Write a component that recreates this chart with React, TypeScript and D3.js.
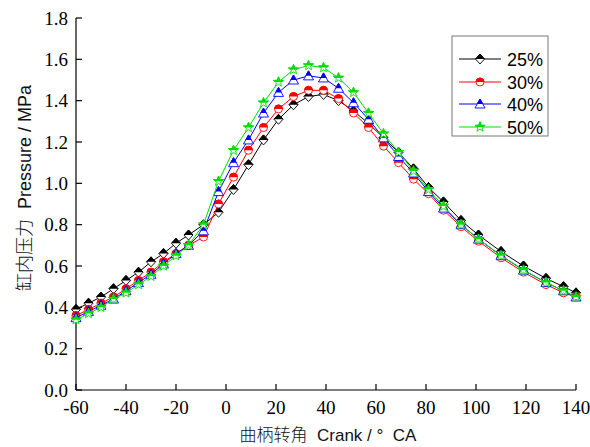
import React from "react";
import * as d3 from "d3";

const crank = [-60, -55, -50, -45, -40, -35, -30, -25, -20, -15, -9, -3, 3, 9, 15, 21, 27, 33, 39, 45, 51, 57, 63, 69, 75, 81, 87, 94, 101, 110, 119, 128, 135, 140];
const p25 = [0.39, 0.42, 0.45, 0.49, 0.53, 0.57, 0.62, 0.66, 0.71, 0.75, 0.80, 0.86, 0.97, 1.09, 1.21, 1.31, 1.38, 1.42, 1.43, 1.40, 1.35, 1.29, 1.22, 1.15, 1.07, 0.98, 0.91, 0.82, 0.75, 0.67, 0.60, 0.54, 0.50, 0.47];
const p30 = [0.36, 0.39, 0.42, 0.45, 0.49, 0.53, 0.57, 0.62, 0.66, 0.70, 0.74, 0.90, 1.03, 1.16, 1.27, 1.36, 1.42, 1.45, 1.45, 1.41, 1.34, 1.27, 1.18, 1.10, 1.02, 0.95, 0.87, 0.79, 0.72, 0.64, 0.57, 0.51, 0.47, 0.45];
const p40 = [0.35, 0.38, 0.41, 0.44, 0.48, 0.52, 0.56, 0.61, 0.66, 0.70, 0.77, 0.96, 1.10, 1.21, 1.34, 1.44, 1.50, 1.52, 1.51, 1.46, 1.39, 1.31, 1.22, 1.13, 1.05, 0.96, 0.88, 0.80, 0.73, 0.65, 0.58, 0.52, 0.48, 0.45];
const p50 = [0.34, 0.37, 0.40, 0.44, 0.47, 0.51, 0.55, 0.60, 0.65, 0.70, 0.80, 1.01, 1.16, 1.27, 1.39, 1.49, 1.55, 1.57, 1.56, 1.51, 1.44, 1.34, 1.24, 1.15, 1.06, 0.97, 0.89, 0.80, 0.73, 0.65, 0.58, 0.52, 0.48, 0.45];

const seriesNames = ["25%", "30%", "40%", "50%"];
const seriesValues = [p25, p30, p40, p50];
const seriesColors = ["#000000", "#ff0000", "#0000ff", "#00dd00"];
const seriesShapes = ["diamond", "circle", "triangle", "star"];

const xTicks = [-60, -40, -20, 0, 20, 40, 60, 80, 100, 120, 140];
const yTicks = [0, 0.2, 0.4, 0.6, 0.8, 1.0, 1.2, 1.4, 1.6, 1.8];

function starPath(ro: number, ri: number) {
  const pts: string[] = [];
  for (let i = 0; i < 10; i++) {
    const r = i % 2 === 0 ? ro : ri;
    const a = -Math.PI / 2 + (i * Math.PI) / 5;
    pts.push(`${(r * Math.cos(a)).toFixed(2)},${(r * Math.sin(a)).toFixed(2)}`);
  }
  return "M" + pts.join("L") + "Z";
}

const shapePaths: Record<string, string> = {
  diamond: "M0,-5L4.5,0L0,5L-4.5,0Z",
  circle: "M-4,0A4,4 0 1,1 4,0A4,4 0 1,1 -4,0Z",
  triangle: "M0,-5L5,4L-5,4Z",
  star: starPath(5.2, 2.2),
};

function Marker({ x, y, shape, color }: { x: number; y: number; shape: string; color: string }) {
  const d = shapePaths[shape];
  return (
    <g transform={`translate(${x},${y})`}>
      <path d={d} fill="#fff" stroke={color} strokeWidth={0.9} />
      <path d={d} fill={color} stroke={color} strokeWidth={0.9} clipPath="url(#topHalf)" />
    </g>
  );
}

const SERIF = "'Liberation Serif', 'Times New Roman', serif";
const SANS = "'Liberation Sans', Arial, sans-serif";
const CJK = "'Noto Sans CJK SC', sans-serif";

export default function App() {
  const W = 590, H = 447;
  const x = d3.scaleLinear().domain([-60, 140]).range([76, 576]);
  const y = d3.scaleLinear().domain([0, 1.8]).range([390, 18]);
  const line = d3.line<number>().x((_, i) => x(crank[i])).y((v) => y(v));

  const legendX = 452, legendY = 36;
  const legendRows = [59, 82, 104, 127];

  return (
    <svg width={W} height={H} style={{ position: "absolute", left: 0, top: 0, background: "#fff" }}>
      <defs>
        <clipPath id="topHalf" clipPathUnits="userSpaceOnUse">
          <rect x={-10} y={-10} width={20} height={10} />
        </clipPath>
      </defs>
      <rect x={0} y={0} width={W} height={H} fill="#fff" />

      {/* axes */}
      <line x1={76} y1={390} x2={576} y2={390} stroke="#000" strokeWidth={1.2} />
      <line x1={76} y1={390} x2={76} y2={18} stroke="#000" strokeWidth={1.2} />
      {xTicks.map((t) => (
        <g key={"xt" + t}>
          <line x1={x(t)} x2={x(t)} y1={390} y2={384} stroke="#000" strokeWidth={1.2} />
          <text x={x(t)} y={414} textAnchor="middle" fontFamily={SERIF} fontSize={19} fill="#000">
            {t}
          </text>
        </g>
      ))}
      {yTicks.map((t) => (
        <g key={"yt" + t}>
          <line x1={76} x2={82} y1={y(t)} y2={y(t)} stroke="#000" strokeWidth={1.2} />
          <text x={68} y={y(t) + 6.5} textAnchor="end" fontFamily={SERIF} fontSize={19} fill="#000">
            {t.toFixed(1)}
          </text>
        </g>
      ))}

      {/* axis titles */}
      <text x={328} y={441} textAnchor="middle" fontSize={17} fill="#111">
        <tspan fontFamily={CJK} fontWeight={300}>曲柄转角</tspan>
        <tspan fontFamily={SANS}>{"\u00a0\u00a0Crank / °\u00a0\u00a0CA"}</tspan>
      </text>
      <text transform={`translate(31,188) rotate(-90)`} textAnchor="middle" fontSize={18} fill="#111">
        <tspan fontFamily={CJK} fontWeight={300}>缸内压力</tspan>
        <tspan fontFamily={SANS}>{"\u00a0\u00a0Pressure / MPa"}</tspan>
      </text>

      {/* series */}
      {seriesValues.map((vals, si) => (
        <g key={"s" + si}>
          <path d={line(vals) || ""} fill="none" stroke={seriesColors[si]} strokeWidth={1} />
          {vals.map((v, i) => (
            <Marker key={i} x={x(crank[i])} y={y(v)} shape={seriesShapes[si]} color={seriesColors[si]} />
          ))}
        </g>
      ))}

      {/* legend */}
      <rect x={legendX} y={legendY} width={96} height={100} fill="#fff" stroke="#777" strokeWidth={1} />
      {seriesNames.map((n, si) => (
        <g key={"l" + si}>
          <line x1={459} x2={501} y1={legendRows[si]} y2={legendRows[si]} stroke={seriesColors[si]} strokeWidth={1} />
          <Marker x={480} y={legendRows[si]} shape={seriesShapes[si]} color={seriesColors[si]} />
          <text x={507} y={legendRows[si] + 6.5} fontFamily={SANS} fontSize={18} fill="#000">
            {n}
          </text>
        </g>
      ))}
    </svg>
  );
}
